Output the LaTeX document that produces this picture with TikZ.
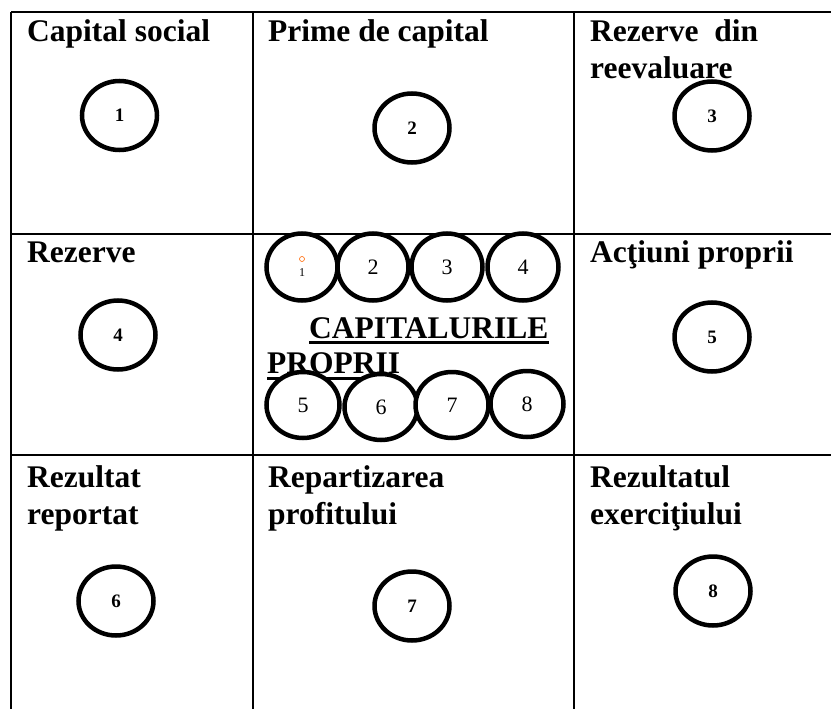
\documentclass[tikz,border=0pt]{standalone}
\usepackage{fontspec}
\setmainfont{Liberation Serif}
\usetikzlibrary{shapes.geometric}
\tikzset{
  grid/.style={line width=2bp, black},
  head/.style={anchor=base west, inner sep=0pt, font=\fontsize{31.5bp}{37bp}\selectfont\bfseries},
  bigc/.style={ellipse, draw, line width=4.5bp, fill=white, minimum width=75bp, minimum height=69bp, inner sep=0pt, font=\fontsize{19bp}{22bp}\selectfont\bfseries},
  smallc/.style={ellipse, draw, line width=4.5bp, fill=white, minimum width=71bp, minimum height=67bp, inner sep=0pt, font=\fontsize{22bp}{26bp}\selectfont},
  uline/.style={line width=3bp}
}
\begin{document}
\begin{tikzpicture}[x=1bp, y=-1bp]
\useasboundingbox (0,0) rectangle (831,709);
% table grid
\coordinate (tl) at (11,12);
\coordinate (tr) at (831,12);
\coordinate (r1l) at (11,234);
\coordinate (r1r) at (831,234);
\coordinate (r2l) at (11,455);
\coordinate (r2r) at (831,455);
\coordinate (bl) at (11,709);
\coordinate (c1t) at (253,12);
\coordinate (c1b) at (253,709);
\coordinate (c2t) at (574,12);
\coordinate (c2b) at (574,709);
\draw[grid] (tl) -- (tr);
\draw[grid] (r1l) -- (r1r);
\draw[grid] (r2l) -- (r2r);
\draw[grid] (tl) -- (bl);
\draw[grid] (c1t) -- (c1b);
\draw[grid] (c2t) -- (c2b);
% headings
\node[head] (h1) at (27,42) {Capital social};
\node[head] (h2) at (268,42) {Prime de capital};
\node[head] (h3a) at (590,42) {Rezerve\ \ din};
\node[head] (h3b) at (590,79) {reevaluare};
\node[head] (h4) at (27,262) {Rezerve};
\node[head] (h5) at (590,262) {Acţiuni proprii};
\node[head] (h6a) at (27,487) {Rezultat};
\node[head] (h6b) at (27,524) {reportat};
\node[head] (h7a) at (268,487) {Repartizarea};
\node[head] (h7b) at (268,524) {profitului};
\node[head] (h8a) at (590,487) {Rezultatul};
\node[head] (h8b) at (590,524) {exerciţiului};
% centre title
\node[head] (cap) at (309,338) {CAPITALURILE};
\node[head] (pro) at (267,373) {PROPRII};
\draw[uline] ([yshift=-4.5bp]cap.base west) -- ([yshift=-4.5bp]cap.base east);
\draw[uline] ([yshift=-5bp]pro.base west) -- ([yshift=-5bp]pro.base east);
% big circles
\node[bigc] (b1) at (119.5,115.5) {1};
\node[bigc] (b2) at (412,128) {2};
\node[bigc] (b3) at (712,116) {3};
\node[bigc] (b4) at (118,335) {4};
\node[bigc] (b5) at (712,337) {5};
\node[bigc] (b6) at (116,601) {6};
\node[bigc] (b7) at (412,606) {7};
\node[bigc] (b8) at (713,591) {8};
% small circles, top row
\node[smallc] (s1) at (302,267) {};
\node[inner sep=0pt, font=\fontsize{12bp}{14bp}\selectfont] (s1n) at (302,273) {1};
\node[circle, draw=orange!80!red, line width=0.6bp, minimum size=5bp, inner sep=0pt] (s1o) at (302,259) {};
\node[smallc] (s2) at (373,267) {2};
\node[smallc] (s3) at (447,267) {3};
\node[smallc] (s4) at (523,267) {4};
% small circles, bottom row
\node[smallc, minimum width=73bp, minimum height=66bp] (s5) at (303,405) {5};
\node[smallc, minimum width=73bp, minimum height=66bp] (s6) at (381,407) {6};
\node[smallc, minimum width=73bp, minimum height=66bp] (s7) at (452,405) {7};
\node[smallc, minimum width=73bp, minimum height=66bp] (s8) at (527,404) {8};
\end{tikzpicture}
\end{document}
